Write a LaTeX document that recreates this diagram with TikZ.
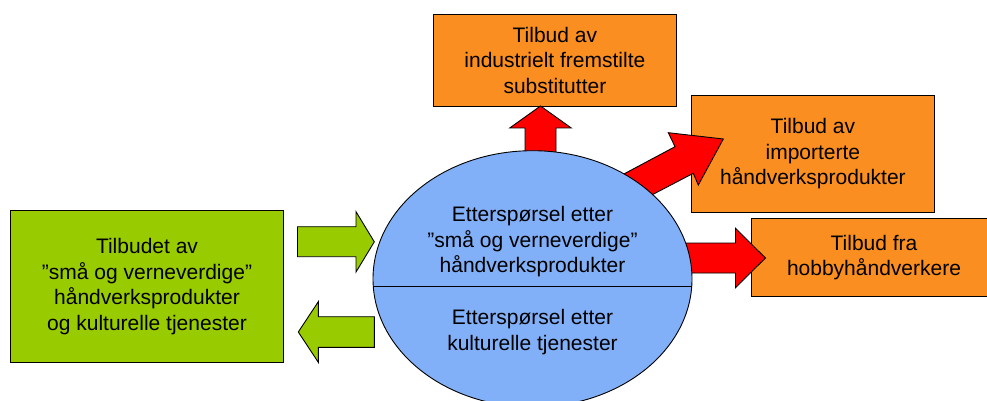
\documentclass[tikz,border=0pt]{standalone}
\usepackage{fontspec}
\setmainfont{Liberation Sans}
\usetikzlibrary{shapes.geometric}
\definecolor{boxorange}{RGB}{250,142,32}
\definecolor{boxgreen}{RGB}{153,204,0}
\definecolor{ellblue}{RGB}{130,176,248}
\definecolor{arrred}{RGB}{255,0,0}
\begin{document}
\begin{tikzpicture}[x=1pt,y=-1pt,
  outl/.style={draw=black, line width=0.9pt, line join=miter},
  txt/.style={align=center, font=\fontsize{21}{25.5}\selectfont, text=black, inner sep=0pt},
  obox/.style={outl, fill=boxorange, txt},
  gbox/.style={outl, fill=boxgreen, txt},
  redarrow/.style={outl, fill=arrred},
  greenarrow/.style={outl, fill=boxgreen}]
\useasboundingbox (0,0) rectangle (987,401);
\clip (0,0) rectangle (987,401);

% boxes
\node[obox, minimum width=242.3pt, minimum height=92pt] (sub) at (554.9,60)
  {Tilbud av\\industrielt fremstilte\\substitutter};
\node[obox, minimum width=243.4pt, minimum height=117.7pt] (imp) at (812.9,153.9)
  {Tilbud av\\importerte\\håndverksprodukter};
\node[obox, minimum width=244.8pt, minimum height=78.4pt] (hob) at (874,257.5)
  {Tilbud fra\\hobbyhåndverkere};
\node[gbox, minimum width=272.6pt, minimum height=151.6pt] (sup) at (147,286.5)
  {Tilbudet av\\”små og verneverdige”\\håndverksprodukter\\og kulturelle tjenester};

% red block arrows
\draw[redarrow] (525,175) -- (525,128) -- (509.7,128) -- (540.5,106) -- (571.3,128)
  -- (556,128) -- (556,175) -- cycle;
\draw[redarrow] (607,183) -- (675,146.7) -- (668.3,132.7) -- (723.3,139) -- (698.3,185)
  -- (693.3,173.3) -- (635.6,203.4) -- cycle;
\draw[redarrow] (670,243) -- (735.5,243) -- (735.5,228.3) -- (765.4,258) -- (735.5,287.7)
  -- (735.5,273) -- (670,273) -- cycle;

% green block arrows
\draw[greenarrow] (297.5,226.7) -- (356,226.7) -- (356,211.7) -- (374.3,241.8) -- (356,272)
  -- (356,256.7) -- (297.5,256.7) -- cycle;
\draw[greenarrow] (374.3,316.7) -- (318.3,316.7) -- (318.3,301.7) -- (298.3,332) -- (318.3,362.3)
  -- (318.3,347.3) -- (374.3,347.3) -- cycle;

% demand ellipse
\node[ellipse, outl, fill=ellblue, minimum width=319pt, minimum height=256.4pt, inner sep=0pt]
  (dem) at (532.5,278.9) {};
\draw[outl] (373.4,286.7) -- (691.6,286.7);
\node[txt] (demtop) at (532.5,241.7) {Etterspørsel etter\\”små og verneverdige”\\håndverksprodukter};
\node[txt] (dembot) at (532.5,332) {Etterspørsel etter\\kulturelle tjenester};
\end{tikzpicture}
\end{document}
